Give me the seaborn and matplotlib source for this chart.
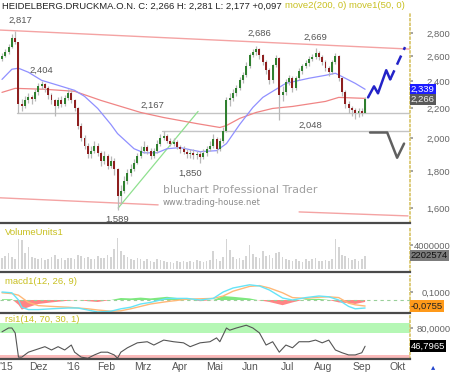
import numpy as np
import matplotlib
matplotlib.use('Agg')
import matplotlib.pyplot as plt
from matplotlib.ticker import NullLocator
import seaborn as sns

# ---- data (EUR; one candle = two trading days) ----
open0 = 2.580
close = [2.600, 2.634, 2.677, 2.756, 2.720, 2.235, 2.214, 2.257, 2.279, 2.264,
         2.316, 2.361, 2.377, 2.346, 2.294, 2.257, 2.214, 2.257, 2.228, 2.272,
         2.309, 2.257, 2.200, 2.083, 2.004, 1.953, 1.903, 1.922, 1.953, 1.909,
         1.861, 1.891, 1.832, 1.861, 1.814, 1.663, 1.690, 1.745, 1.791, 1.814,
         1.849, 1.891, 1.922, 1.947, 1.922, 1.891, 1.922, 1.966, 2.004, 2.017,
         1.985, 1.966, 1.979, 1.947, 1.934, 1.916, 1.903, 1.909, 1.897, 1.903,
         1.885, 1.909, 1.934, 1.953, 1.998, 1.934, 1.985, 2.050, 2.257, 2.272,
         2.309, 2.346, 2.407, 2.446, 2.518, 2.609, 2.634, 2.660, 2.609, 2.551,
         2.486, 2.407, 2.526, 2.584, 2.294, 2.316, 2.392, 2.423, 2.346, 2.423,
         2.478, 2.518, 2.542, 2.576, 2.592, 2.626, 2.592, 2.551, 2.502, 2.470,
         2.551, 2.600, 2.423, 2.316, 2.228, 2.200, 2.186, 2.165, 2.179, 2.169,
         2.266]
high = [2.63, 2.66, 2.70, 2.79, 2.817, 2.72, 2.27, 2.29, 2.31, 2.30,
        2.34, 2.39, 2.404, 2.39, 2.36, 2.31, 2.27, 2.28, 2.29, 2.30,
        2.34, 2.33, 2.27, 2.21, 2.10, 2.02, 1.97, 1.95, 1.98, 1.97,
        1.92, 1.92, 1.90, 1.89, 1.88, 1.82, 1.72, 1.77, 1.81, 1.84,
        1.87, 1.91, 1.95, 1.98, 1.96, 1.94, 1.94, 1.99, 2.03, 2.048,
        2.03, 2.00, 2.00, 1.99, 1.96, 1.95, 1.93, 1.93, 1.93, 1.92,
        1.92, 1.93, 1.95, 1.98, 2.03, 2.01, 2.00, 2.07, 2.28, 2.31,
        2.34, 2.37, 2.43, 2.47, 2.55, 2.63, 2.66, 2.686, 2.67, 2.62,
        2.57, 2.50, 2.54, 2.61, 2.59, 2.36, 2.42, 2.45, 2.44, 2.44,
        2.50, 2.54, 2.57, 2.60, 2.62, 2.669, 2.64, 2.61, 2.57, 2.52,
        2.57, 2.63, 2.61, 2.43, 2.33, 2.25, 2.22, 2.20, 2.20, 2.20,
        2.281]
low = [2.56, 2.59, 2.62, 2.67, 2.70, 2.17, 2.18, 2.20, 2.24, 2.23,
       2.25, 2.30, 2.34, 2.32, 2.27, 2.23, 2.15, 2.20, 2.21, 2.22,
       2.26, 2.24, 2.18, 2.06, 1.98, 1.93, 1.88, 1.88, 1.91, 1.89,
       1.83, 1.84, 1.81, 1.82, 1.78, 1.589, 1.62, 1.68, 1.73, 1.77,
       1.80, 1.84, 1.88, 1.91, 1.90, 1.87, 1.88, 1.91, 1.95, 1.99,
       1.97, 1.95, 1.95, 1.93, 1.91, 1.90, 1.88, 1.88, 1.87, 1.87,
       1.850, 1.87, 1.89, 1.92, 1.94, 1.91, 1.92, 1.97, 2.04, 2.22,
       2.25, 2.29, 2.33, 2.39, 2.43, 2.50, 2.59, 2.61, 2.58, 2.53,
       2.46, 2.38, 2.39, 2.51, 2.12, 2.25, 2.30, 2.37, 2.32, 2.33,
       2.41, 2.46, 2.50, 2.52, 2.56, 2.58, 2.57, 2.53, 2.48, 2.44,
       2.46, 2.54, 2.40, 2.29, 2.20, 2.17, 2.15, 2.13, 2.14, 2.15,
       2.169]
volume = [1.8, 2.2, 2.6, 2.0, 1.6, 5.0, 4.8, 2.6, 3.6, 2.0,
          1.8, 1.6, 1.9, 1.5, 1.7, 2.0, 2.3, 1.6, 1.8, 1.5,
          1.9, 1.8, 1.7, 2.4, 2.2, 1.9, 2.0, 1.7, 1.6, 2.2,
          1.8, 1.9, 2.4, 2.0, 3.4, 5.2, 3.0, 2.4, 2.0, 1.7,
          1.5, 1.8, 1.6, 1.4, 1.7, 1.3, 1.2, 1.6, 1.5, 1.3,
          1.1, 1.2, 1.0, 1.3, 1.2, 1.4, 1.1, 1.3, 1.2, 1.5,
          1.3, 1.2, 1.4, 1.5, 3.0, 1.6, 1.4, 2.0, 5.0, 3.1,
          2.0, 1.6, 1.8, 1.5, 2.2, 4.0, 2.5, 2.0, 1.8, 3.0,
          2.2, 2.4, 1.9, 2.7, 2.8, 2.0, 1.7, 1.5, 1.3, 1.6,
          1.4, 1.2, 1.6, 1.3, 1.7, 1.9, 1.4, 1.3, 1.5, 1.4,
          1.6, 5.0, 3.6, 2.4, 2.2, 1.8, 1.5, 1.6, 1.4, 1.7,
          2.202574]  # million units

ma50_k = [0, 3, 5, 8, 12, 17, 22, 25, 29, 33, 35, 38, 40, 43, 47, 50, 54, 57, 60, 65,
          68, 72, 76, 79, 81, 86, 93, 98, 101, 104, 107, 110]
ma50 = [2.414, 2.494, 2.502, 2.470, 2.407, 2.369, 2.331, 2.287, 2.200, 2.090,
        2.030, 1.972, 1.934, 1.909, 1.909, 1.934, 1.941, 1.928, 1.916, 1.922,
        1.966, 2.090, 2.207, 2.279, 2.309, 2.384, 2.423, 2.446, 2.462, 2.423,
        2.384, 2.339]
ma200_k = [0, 4, 13, 22, 30, 42, 49, 59, 66, 68, 72, 77, 82, 88, 98, 102, 110]
ma200 = [2.316, 2.346, 2.339, 2.324, 2.257, 2.172, 2.137, 2.096, 2.070, 2.083,
         2.131, 2.172, 2.200, 2.214, 2.250, 2.279, 2.272]

macd_k = [0, 3, 5, 6, 8, 11, 15, 20, 23, 26, 29, 33, 36, 39, 42, 45, 50, 56, 60, 64,
          67, 70, 75, 78, 81, 85, 88, 92, 96, 99, 102, 105, 107, 110]
macd = [0.10, 0.09, 0.00, -0.09, -0.12, -0.12, -0.11, -0.10, -0.10, -0.125,
        -0.15, -0.14, -0.11, -0.09, -0.05, -0.03, 0.02, 0.02, 0.00, 0.02,
        0.10, 0.15, 0.19, 0.175, 0.125, 0.025, 0.00, 0.03, 0.05, 0.04,
        0.00, -0.08, -0.11, -0.10]
signal = [0.09, 0.08, 0.06, 0.03, -0.03, -0.07, -0.08, -0.09, -0.10, -0.11,
          -0.125, -0.14, -0.135, -0.11, -0.08, -0.05, -0.02, 0.01, 0.015, 0.02,
          0.05, 0.11, 0.17, 0.18, 0.15, 0.09, 0.03, 0.02, 0.035, 0.04,
          0.03, -0.04, -0.06, -0.0755]

rsi_k = [0, 2, 3, 4, 5, 6, 8, 10, 13, 15, 17, 19, 21, 22, 24, 26, 28, 30, 32, 34,
         35, 36, 38, 41, 44, 46, 49, 52, 55, 57, 60, 63, 65, 66, 68, 69, 71, 74, 76, 78,
         80, 82, 84, 86, 88, 90, 93, 95, 97, 99, 101, 103, 105, 107, 109, 110]
rsi = [73, 80, 80, 71, 27, 27, 36, 40, 46, 40, 46, 40, 49, 36, 27, 25, 31, 36, 36, 31,
       25, 36, 44, 53, 55, 49, 58, 55, 53, 46, 53, 55, 62, 55, 80, 76, 80, 85, 80, 71,
       49, 55, 36, 49, 44, 55, 55, 58, 53, 58, 40, 35, 31, 31, 35, 46.8]

# drawn trend / support lines and the two forecast paths
upper_trend_k, upper_trend = [-0.6, 123.6], [2.827, 2.660]
lower_trend_k1, lower_trend1 = [-0.6, 47.3], [1.653, 1.616]
lower_trend_k2, lower_trend2 = [90.0, 123.0], [1.580, 1.560]
green_trend_k, green_trend = [35.2, 59.4], [1.600, 2.179]
support_2167_k, support_2048_k = [4.5, 123.6], [48.5, 123.6]
fc_up_k = [110.9, 112.7, 113.9, 116.4, 117.6]
fc_up = [2.279, 2.361, 2.309, 2.486, 2.414]
fc_up_dash_k, fc_up_dash = [117.6, 122.1], [2.414, 2.677]
fc_dn_k = [111.5, 116.7, 119.7, 121.8]
fc_dn = [2.037, 2.037, 1.879, 1.966]

month_k = [1.4, 10.9, 21.5, 31.5, 42.7, 53.9, 64.5, 75.2, 86.4, 97.3, 109.1, 120.0]
month_lbl = ["'15", 'Dez', "'16", 'Feb', 'Mrz', 'Apr', 'Mai', 'Jun', 'Jul', 'Aug', 'Sep', 'Okt']

# ---- style ----
sns.set_theme(style='white')
plt.rcParams['font.family'] = ['Liberation Sans', 'DejaVu Sans']
YEL = '#c8c020'
GREY_TXT = '#555555'

W, H = 450, 373
fig = plt.figure(figsize=(W / 100, H / 100), dpi=100)


def panel(top, bottom):
    a = fig.add_axes([0, 1 - bottom / H, 410 / W, (bottom - top) / H])
    a.set_xlim(-0.6, 123.6)
    for s in ['top', 'left']:
        a.spines[s].set_visible(False)
    a.spines['right'].set_linestyle(':')
    a.spines['right'].set_color('#d8c56a')
    a.spines['bottom'].set_color('#4a4a4a')
    a.spines['bottom'].set_linewidth(1.6)
    a.set_xticks([])
    return a


def right_ticks(a, vals, labels):
    a.yaxis.tick_right()
    a.set_yticks(vals)
    a.set_yticklabels(labels)
    a.yaxis.set_minor_locator(NullLocator())
    a.tick_params(axis='y', length=2, color='#999999', labelcolor='#666666',
                  labelsize=6.8, pad=27)
    for t in a.get_yticklabels():
        t.set_ha('right')


def value_box(a, y, txt, fc, tc):
    a.text(1.002, y, txt, transform=a.get_yaxis_transform(), ha='left', va='center',
           fontsize=6.8, color=tc, zorder=10, clip_on=False,
           bbox=dict(boxstyle='square,pad=0.12', fc=fc, ec='none'))


def fmt(v, nd=3):
    return f'{v:.{nd}f}'.replace('.', ',')


idx = np.arange(len(close))
opens = np.array([open0] + close[:-1])
cl = np.array(close)

# ---- price panel ----
ax = panel(12, 223)
ax.set_yscale('log')
ax.set_ylim(1.525, 2.995)

ax.plot(upper_trend_k, upper_trend, color='#f4a3a3', lw=1)
ax.plot(lower_trend_k1, lower_trend1, color='#f4a3a3', lw=1)
ax.plot(lower_trend_k2, lower_trend2, color='#f4a3a3', lw=1)
ax.plot(support_2167_k, [2.167, 2.167], color='#c4c4c4', lw=1)
ax.plot(support_2048_k, [2.048, 2.048], color='#c4c4c4', lw=1)
ax.plot(green_trend_k, green_trend, color='#8fe08f', lw=0.9)

sns.lineplot(x=ma200_k, y=ma200, ax=ax, color='#f08585', lw=0.9)
sns.lineplot(x=ma50_k, y=ma50, ax=ax, color='#9090ff', lw=0.9)

up = cl >= opens
colors = np.where(up, '#2f7f2f', '#8e1f1f')
ax.vlines(idx, low, high, color='#b8b8b8', lw=0.9, zorder=3)
ax.bar(idx, np.maximum(np.abs(cl - opens), 0.004), bottom=np.minimum(cl, opens),
       width=0.6, color=colors, linewidth=0, zorder=4)

ax.plot(fc_up_k, fc_up, color='#2323c8', lw=1.8, zorder=5)
ax.plot(fc_up_dash_k, fc_up_dash, color='#2323c8', lw=1.8, ls=(0, (4, 2.5)), zorder=5)
ax.plot(fc_dn_k, fc_dn, color='#606060', lw=1.8, zorder=5)

lab = dict(fontsize=6.8, color=GREY_TXT, ha='center', va='center', textcoords='offset points')
ax.annotate('2,817', xy=(4, high[4]), xytext=(4, 8), **lab)
ax.annotate('2,404', xy=(12, high[12]), xytext=(0, 7.5), **lab)
ax.annotate('2,167', xy=(45.5, 2.167), xytext=(0, 6), **lab)
ax.annotate('1,589', xy=(35, low[35]), xytext=(0, -6.5), **lab)
ax.annotate('1,850', xy=(60, low[60]), xytext=(-7, -8), **lab)
ax.annotate('2,686', xy=(77, high[77]), xytext=(2, 9), **lab)
ax.annotate('2,669', xy=(95, high[95]), xytext=(0, 7.5), **lab)
ax.annotate('2,048', xy=(93.3, 2.048), xytext=(0, 4), **lab)

ax.text(163 / 410, 1 - (190 - 12) / 211, 'bluchart Professional Trader', transform=ax.transAxes,
        fontsize=7.9, color='#a0a0a0', ha='left', va='center', family='DejaVu Sans')
ax.text(163 / 410, 1 - (203 - 12) / 211, 'www.trading-house.net', transform=ax.transAxes,
        fontsize=6, color='#8a8a8a', ha='left', va='center', family='DejaVu Sans')

price_ticks = [1.6, 1.8, 2.0, 2.2, 2.4, 2.6, 2.8]
right_ticks(ax, price_ticks, [fmt(v) for v in price_ticks])
value_box(ax, ma50[-1], fmt(ma50[-1]), '#1c1cff', 'white')
value_box(ax, close[-1], fmt(close[-1]), '#5a5a5a', '#f0f0f0')

# ---- volume panel ----
axv = panel(226, 272)
axv.bar(idx, volume, width=0.5, color='#d4d4d4', linewidth=0)
axv.set_ylim(-0.5, 7.17)
right_ticks(axv, [4.0], ['4000000'])
value_box(axv, volume[-1], f'{volume[-1] * 1e6:.0f}', '#7c7c7c', '#111111')
axv.text(0.012, 0.86, 'VolumeUnits1', transform=axv.transAxes, fontsize=6.8, color=YEL, va='center')

# ---- macd panel ----
axm = panel(276, 313)
hist = np.array(macd) - np.array(signal)
axm.fill_between(macd_k, hist, 0, where=hist >= 0, interpolate=True, color='#7fe87f', lw=0)
axm.fill_between(macd_k, hist, 0, where=hist < 0, interpolate=True, color='#ff8585', lw=0)
axm.axhline(0, color='#9acf9a', lw=0.8, ls=(0, (3, 3)))
sns.lineplot(x=macd_k, y=signal, ax=axm, color='#ffb877', lw=1)
sns.lineplot(x=macd_k, y=macd, ax=axm, color='#66e4f7', lw=1)
axm.set_ylim(-0.1625, 0.30)
right_ticks(axm, [0.1], ['0,1000'])
value_box(axm, signal[-1], fmt(signal[-1], 4), '#ff9a1a', '#222222')
axm.text(0.012, 0.86, 'macd1(12, 26, 9)', transform=axm.transAxes, fontsize=6.8, color=YEL, va='center')

# ---- rsi panel ----
axr = panel(316, 359)
axr.axhspan(70, 89, color='#b5f7b5', lw=0)
axr.axhspan(0, 30, color='#f9b9b9', lw=0)
sns.lineplot(x=rsi_k, y=rsi, ax=axr, color='#555555', lw=0.8)
axr.set_ylim(23.6, 101.8)
right_ticks(axr, [80], ['80,0000'])
value_box(axr, rsi[-1] + 0.5, '46,7965', 'black', 'white')
axr.text(0.012, 0.92, 'rsi1(14, 70, 30, 1)', transform=axr.transAxes, fontsize=6.8, color=YEL, va='center')
axr.set_xticks(month_k)
axr.set_xticklabels(month_lbl)
axr.tick_params(axis='x', length=0, labelsize=7.5, labelcolor=GREY_TXT, pad=2)

for a in (ax, axv, axm, axr):
    a.set_xlabel('')
    a.set_ylabel('')
    a.set_xlim(-0.6, 123.6)

# ---- header ----
fig.text(2 / W, 1 - 6 / H, 'HEIDELBERG.DRUCKMA.O.N. C: 2,266 H: 2,281 L: 2,177 +0,097',
         fontsize=6.8, color='#222222', va='center', ha='left')
fig.text(285 / W, 1 - 6 / H, 'move2(200, 0) move1(50, 0)', fontsize=6.8, color=YEL,
         va='center', ha='left')
fig.text(433 / W, 1 - 367 / H, '\u25b4', fontsize=6, color='#2244cc', ha='center', va='center',
         family='DejaVu Sans')

fig.savefig('out.png', dpi=100)
